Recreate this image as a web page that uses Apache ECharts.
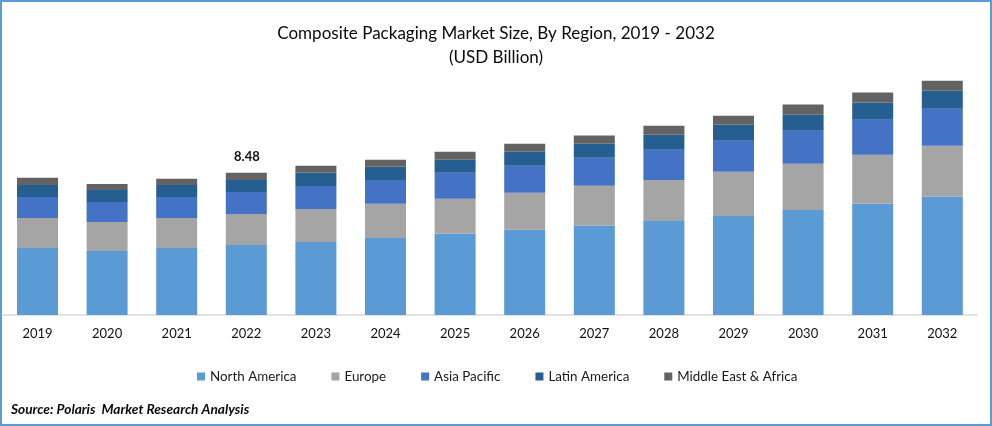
<!DOCTYPE html>
<html><head><meta charset="utf-8">
<script src="https://cdn.jsdelivr.net/npm/echarts@6/dist/echarts.min.js"></script>
<style>html,body{margin:0;padding:0;background:#fff}#c{width:992px;height:426px}</style></head>
<body><div id="c"></div>
<script>
const categories=['2019','2020','2021','2022','2023','2024','2025','2026','2027','2028','2029','2030','2031','2032'];
const northAmerica=[4.00,3.82,4.00,4.18,4.36,4.60,4.84,5.08,5.32,5.61,5.91,6.27,6.63,7.05];
const europe=[1.79,1.73,1.79,1.85,1.97,2.03,2.09,2.21,2.39,2.45,2.63,2.75,2.93,3.05];
const asiaPacific=[1.25,1.19,1.25,1.31,1.37,1.43,1.55,1.61,1.67,1.79,1.85,1.97,2.09,2.21];
const latinAmerica=[0.72,0.72,0.72,0.72,0.78,0.78,0.78,0.84,0.84,0.90,0.96,0.96,1.02,1.07];
const middleEastAfrica=[0.42,0.36,0.36,0.42,0.42,0.42,0.48,0.48,0.48,0.54,0.54,0.60,0.60,0.60];
const font='Lato';
const mk=(name,data,color,extra)=>Object.assign({name,type:'bar',stack:'t',data,barWidth:41,itemStyle:{color}},extra||{});
const chart=echarts.init(document.getElementById('c'),null,{renderer:'canvas'});
chart.setOption({
  animation:false,
  backgroundColor:'#fff',
  title:{text:'Composite Packaging Market Size, By Region, 2019 - 2032\n(USD Billion)',left:'center',top:17,
    textStyle:{fontFamily:font,fontSize:17.05,fontWeight:'normal',color:'#0a0a0a',lineHeight:24}},
  grid:{left:2.7,right:14.9,top:30,bottom:111},
  legend:{bottom:38,left:192,itemWidth:8,itemHeight:8,itemGap:35,icon:'rect',
    textStyle:{fontFamily:font,fontSize:13.4,color:'#1a1a1a',padding:[0,0,0,0]}},
  xAxis:{type:'category',data:categories,axisTick:{show:false},
    axisLine:{lineStyle:{color:'#d9d9d9',width:1.5}},
    axisLabel:{fontFamily:font,fontSize:13,color:'#111',margin:12}},
  yAxis:{type:'value',min:0,max:17,show:false,splitLine:{show:false}},
  graphic:[
    {type:'rect',shape:{x:1,y:1,width:990,height:424},style:{fill:'none',stroke:'#5B9BD5',lineWidth:2},silent:true},
    {type:'text',left:11,top:403,style:{text:'Source: Polaris  Market Research Analysis',fontFamily:font,fontSize:13.7,fontWeight:'bold',fontStyle:'italic',fill:'#0a0a0a'}},
    {type:'text',left:234,top:150,style:{text:'8.48',fontFamily:font,fontSize:13,fontWeight:'bold',fill:'#111'}}
  ],
  series:[
    mk('North America',northAmerica,'#5B9BD5'),
    mk('Europe',europe,'#A5A5A5'),
    mk('Asia Pacific',asiaPacific,'#4472C4'),
    mk('Latin America',latinAmerica,'#255E91'),
    mk('Middle East & Africa',middleEastAfrica,'#636363')
  ]
});
</script></body></html>
